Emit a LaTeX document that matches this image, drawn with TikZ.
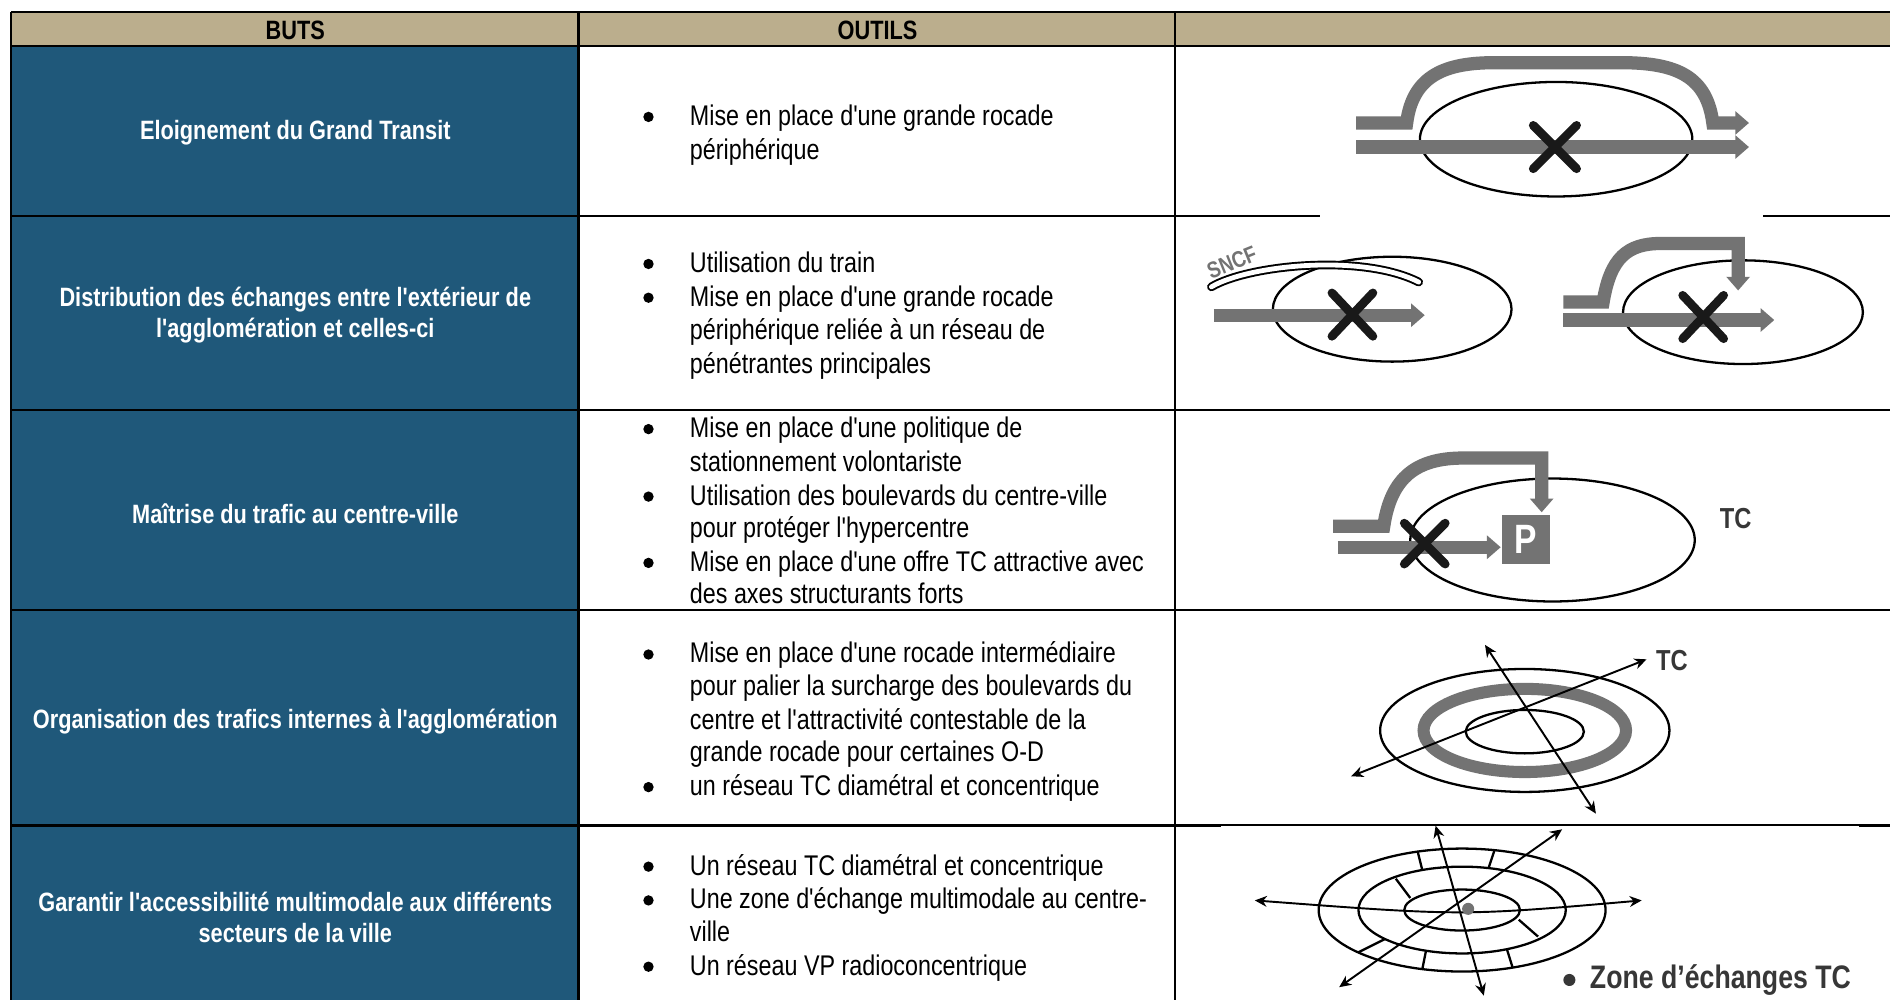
\documentclass[tikz,border=0pt]{standalone}
\usepackage{fontspec}
\newfontfamily\narrowfont{Liberation Sans}[FakeStretch=0.82]
\usetikzlibrary{arrows.meta}

\definecolor{headtan}{RGB}{187,174,141}
\definecolor{butblue}{RGB}{31,88,122}
\definecolor{roadgray}{RGB}{115,115,115}
\definecolor{inkgray}{RGB}{55,55,55}

\tikzset{
  trait/.style={line width=1pt},
  headtxt/.style={font=\narrowfont\bfseries\fontsize{11}{13}\selectfont},
  buttxt/.style={text=white, align=center, font=\narrowfont\bfseries\fontsize{11}{13}\selectfont},
  outil/.style={anchor=west, inner sep=0pt, text height=8.5pt, text depth=0.5pt, font=\narrowfont\fontsize{11.8}{14}\selectfont},
  road/.style={draw=roadgray, line width=5.5pt, -{Triangle[length=5.7pt,width=9.5pt]}},
  cross/.style={draw=black!90, line width=3.6pt, line cap=round},
  ring/.style={line width=0.95pt},
  fin/.style={line width=0.8pt, {Stealth[length=5pt,width=4.5pt]}-{Stealth[length=5pt,width=4.5pt]}},
  labtc/.style={text=inkgray, font=\narrowfont\bfseries\fontsize{12}{14}\selectfont},
  pbox/.style={fill=roadgray, text=white, minimum width=20pt, minimum height=20.5pt, inner sep=0pt, font=\narrowfont\bfseries\fontsize{17}{18}\selectfont}
}

\begin{document}
\begin{tikzpicture}[x=0.5pt,y=-0.5pt]
		\useasboundingbox (0,0) rectangle (1568,830);
		\fill[white] (0,0) rectangle (1568,830);

		% table
		\fill[headtan] (9,10) rectangle (1568,38);
		\fill[butblue] (9,38) rectangle (480,830);
		\draw[trait] (9,10) -- (1568,10); \draw[trait] (9,38) -- (1568,38);
		\draw[trait] (9,179) -- (1568,179); \draw[trait] (9,340) -- (1568,340);
		\draw[trait] (9,506) -- (1568,506); \draw[trait] (9,685) -- (1568,685);
		\draw[trait] (9,10) -- (9,830); \draw[trait] (480,10) -- (480,830); \draw[trait] (975,10) -- (975,830);

		\node[headtxt] (buts) at (245,25) {BUTS};
		\node[headtxt] (outils) at (728,25) {OUTILS};

		\node[buttxt] (b1) at (245,110) {Eloignement du Grand Transit};
		\node[buttxt] (b2) at (245,261.5) {Distribution des échanges entre l'extérieur de\\l'agglomération et celles-ci};
		\node[buttxt] (b3) at (245,426) {Maîtrise du trafic au centre-ville};
		\node[buttxt] (b4) at (245,599) {Organisation des trafics internes à l'agglomération};
		\node[buttxt] (b5) at (245,761) {Garantir l'accessibilité multimodale aux différents\\secteurs de la ville};

		% bullets
		\fill (538,97) circle (4.3);
		\fill (538,219) circle (4.3); \fill (538,247) circle (4.3);
		\fill (538,356) circle (4.3); \fill (538,412) circle (4.3); \fill (538,467) circle (4.3);
		\fill (538,543) circle (4.3); \fill (538,653) circle (4.3);
		\fill (538,719) circle (4.3); \fill (538,747) circle (4.3); \fill (538,802) circle (4.3);

		\node[outil] (t11) at (572,96) {Mise en place d'une grande rocade};
		\node[outil] (t12) at (572,124) {périphérique};

		\node[outil] (t21) at (572,218) {Utilisation du train};
		\node[outil] (t22) at (572,246) {Mise en place d'une grande rocade};
		\node[outil] (t23) at (572,274) {périphérique reliée à un réseau de};
		\node[outil] (t24) at (572,302) {pénétrantes principales};

		\node[outil] (t31) at (572,355) {Mise en place d'une politique de};
		\node[outil] (t32) at (572,383) {stationnement volontariste};
		\node[outil] (t33) at (572,411) {Utilisation des boulevards du centre-ville};
		\node[outil] (t34) at (572,438) {pour protéger l'hypercentre};
		\node[outil] (t35) at (572,466) {Mise en place d'une offre TC attractive avec};
		\node[outil] (t36) at (572,493) {des axes structurants forts};

		\node[outil] (t41) at (572,542) {Mise en place d'une rocade intermédiaire};
		\node[outil] (t42) at (572,569) {pour palier la surcharge des boulevards du};
		\node[outil] (t43) at (572,597) {centre et l'attractivité contestable de la};
		\node[outil] (t44) at (572,624) {grande rocade pour certaines O-D};
		\node[outil] (t45) at (572,652) {un réseau TC diamétral et concentrique};

		\node[outil] (t51) at (572,718) {Un réseau TC diamétral et concentrique};
		\node[outil] (t52) at (572,746) {Une zone d'échange multimodale au centre-};
		\node[outil] (t53) at (572,773) {ville};
		\node[outil] (t54) at (572,801) {Un réseau VP radioconcentrique};

		% grand transit
		\fill[white] (1095,40) rectangle (1463,181);
		\draw[ring] (1291,115.5) ellipse [x radius=113, y radius=47.5];
		\draw[road] (1125,122) -- (1451,122);
		\draw[road] (1125,102) -- (1167,102) .. controls (1172,62) and (1200,52) .. (1240,52) -- (1345,52) .. controls (1392,52) and (1416,64) .. (1421,102) -- (1451,102);
		\draw[cross] (1272,104) -- (1308,140); \draw[cross] (1308,104) -- (1272,140);

		% train
		\draw[ring] (1155,256.5) ellipse [x radius=99, y radius=43.5];
		\draw[road] (1007,261.5) -- (1182,261.5);
		\draw[cross] (1105,243) -- (1139,279); \draw[cross] (1139,243) -- (1105,279);
		\draw[line width=3.6pt, line cap=round, postaction={draw=white, line width=2pt}] (1005,238) .. controls (1035,220) and (1130,210) .. (1177,234);
		\node[text=roadgray, rotate=22, font=\narrowfont\bfseries\fontsize{9.5}{10}\selectfont] (sncf) at (1022,218) {SNCF};

		% penetrantes
		\draw[ring] (1446,259) ellipse [x radius=99.5, y radius=43];
		\draw[road] (1297,265.5) -- (1472,265.5);
		\draw[road, line join=miter] (1297,250.5) -- (1330,250.5) .. controls (1336,214) and (1350,202) .. (1378,202) -- (1442,202) -- (1442,241);
		\draw[cross] (1396,245) -- (1430,281); \draw[cross] (1430,245) -- (1396,281);

		% stationnement
		\draw[ring] (1288,448) ellipse [x radius=118, y radius=51];
		\draw[road] (1110,454) -- (1245,454);
		\draw[road, line join=miter] (1106,436.5) -- (1148,436.5) .. controls (1154,396) and (1175,380) .. (1214,380) -- (1279,380) -- (1279,425);
		\node[pbox] (park) at (1266,447.5) {P};
		\draw[cross] (1165,434) -- (1199,468); \draw[cross] (1199,434) -- (1165,468);
		\node[labtc] (tc1) at (1440,430) {TC};

		% rocade intermediaire
		\draw[ring] (1265,606) ellipse [x radius=120, y radius=51];
		\draw[roadgray, line width=5pt] (1265,606) ellipse [x radius=84, y radius=34.5];
		\draw[ring] (1265,607) ellipse [x radius=49, y radius=18];
		\draw[fin] (1232,535) -- (1324,675);
		\draw[fin] (1121,644) -- (1366,547);
		\node[labtc] (tc2) at (1387,548) {TC};

		% radioconcentrique
		\fill[white] (1013,685) rectangle (1542,831);
		\draw[ring] (1213,755) ellipse [x radius=119, y radius=51];
		\draw[ring] (1213,755) ellipse [x radius=86, y radius=36];
		\draw[ring] (1213,755) ellipse [x radius=48, y radius=17];
		\draw[ring] (1176,706) -- (1180,722); \draw[ring] (1240,705) -- (1235,720);
		\draw[ring] (1158,729) -- (1170,745); \draw[ring] (1127,790) -- (1149,779);
		\draw[ring] (1180,804) -- (1183,789); \draw[ring] (1255,803) -- (1250,787);
		\draw[ring] (1260,763) -- (1276,777);
		\draw[fin] (1041,747) .. controls (1213,760) .. (1362,747);
		\draw[fin] (1191,685) -- (1231,826);
		\draw[fin] (1111,819) -- (1296,688);
		\fill[roadgray] (1218,754) circle (5);
		\fill[inkgray] (1302,813) circle (5);
		\node[anchor=west, text=inkgray, font=\narrowfont\bfseries\fontsize{13.5}{15}\selectfont] (zone) at (1312,813) {Zone d’échanges TC};
\end{tikzpicture}
\end{document}
